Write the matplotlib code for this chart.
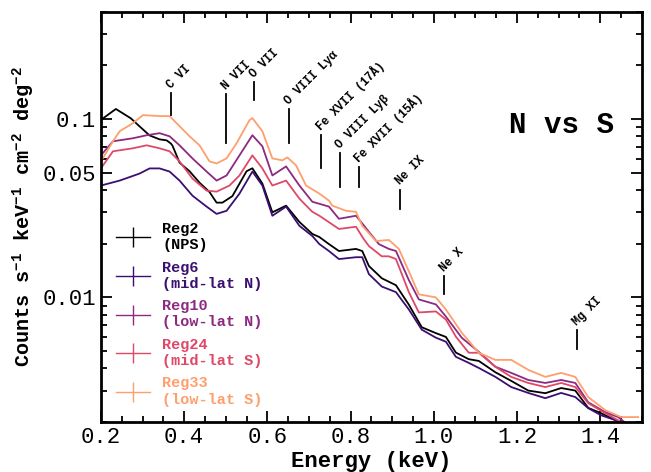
import matplotlib
matplotlib.use("Agg")
import matplotlib.pyplot as plt
from matplotlib.lines import Line2D
from matplotlib.ticker import FixedLocator, FixedFormatter, MultipleLocator, LogLocator, NullFormatter

plt.rcParams["font.family"] = ["Liberation Mono", "DejaVu Sans Mono"]
plt.rcParams["mathtext.fontset"] = "custom"
plt.rcParams["mathtext.rm"] = "Liberation Mono:bold"
plt.rcParams["mathtext.it"] = "Liberation Mono:bold"
plt.rcParams["mathtext.bf"] = "Liberation Mono:bold"

# spectra: energy (keV) and counts s^-1 keV^-1 cm^-2 deg^-2
reg2_e = [0.200, 0.236, 0.272, 0.293, 0.317, 0.341, 0.358, 0.368, 0.372, 0.389, 0.413,
          0.437, 0.461, 0.478, 0.492, 0.516, 0.550, 0.564, 0.588, 0.612, 0.645, 0.677,
          0.708, 0.725, 0.748, 0.772, 0.813, 0.828, 0.844, 0.875, 0.909, 0.940, 0.971,
          1.005, 1.029, 1.053, 1.084, 1.108, 1.148, 1.186, 1.227, 1.268, 1.306, 1.340,
          1.371, 1.402, 1.436, 1.470]
reg2_v = [0.099, 0.114, 0.101, 0.091, 0.081, 0.077, 0.076, 0.073, 0.071, 0.057, 0.051,
          0.044, 0.039, 0.034, 0.034, 0.037, 0.051, 0.053, 0.0435, 0.030, 0.0327, 0.0265,
          0.0227, 0.0218, 0.0199, 0.0182, 0.0187, 0.0182, 0.0150, 0.0128, 0.0117, 0.0091, 0.0068,
          0.0063, 0.0060, 0.0049, 0.0045, 0.0044, 0.0038, 0.0034, 0.0030, 0.0029, 0.0031, 0.0030,
          0.0024, 0.00224, 0.00205, 0.0019]

reg6_e = [0.200, 0.245, 0.293, 0.317, 0.341, 0.365, 0.389, 0.420, 0.454, 0.478, 0.502,
          0.533, 0.564, 0.588, 0.612, 0.645, 0.677, 0.708, 0.725, 0.748, 0.772, 0.813,
          0.828, 0.844, 0.875, 0.909, 0.940, 0.971, 1.005, 1.029, 1.053, 1.084, 1.108,
          1.148, 1.186, 1.227, 1.268, 1.306, 1.340, 1.371, 1.402, 1.436, 1.460]
reg6_v = [0.0424, 0.0452, 0.0495, 0.0529, 0.0529, 0.0508, 0.0452, 0.0372, 0.0323, 0.0294, 0.0306,
          0.0382, 0.0508, 0.0424, 0.0287, 0.0323, 0.0252, 0.0221, 0.0199, 0.0182, 0.0164, 0.0168,
          0.0168, 0.0135, 0.0115, 0.0107, 0.00855, 0.00659, 0.00594, 0.00564, 0.00464, 0.00429, 0.00402,
          0.00358, 0.00314, 0.00291, 0.00272, 0.00291, 0.00276, 0.00239, 0.00218, 0.00205, 0.0019]

reg10_e = [0.200, 0.229, 0.277, 0.310, 0.341, 0.365, 0.389, 0.420, 0.454, 0.478, 0.502,
           0.533, 0.564, 0.588, 0.612, 0.645, 0.677, 0.708, 0.748, 0.772, 0.813, 0.828,
           0.844, 0.868, 0.892, 0.909, 0.940, 0.964, 1.005, 1.029, 1.067, 1.108, 1.148,
           1.186, 1.227, 1.268, 1.306, 1.340, 1.371, 1.412, 1.443, 1.470]
reg10_v = [0.0626, 0.0751, 0.0781, 0.0812, 0.0834, 0.0801, 0.0713, 0.0602, 0.0508, 0.0452, 0.0483,
           0.0626, 0.0812, 0.0704, 0.0483, 0.0543, 0.0424, 0.0344, 0.0323, 0.0276, 0.0287, 0.026,
           0.0233, 0.0199, 0.0187, 0.0182, 0.0125, 0.00974, 0.00913, 0.00781, 0.00594, 0.00495, 0.00408,
           0.00377, 0.00344, 0.00331, 0.00344, 0.00331, 0.00258, 0.00227, 0.00213, 0.0019]

reg24_e = [0.200, 0.229, 0.277, 0.310, 0.341, 0.365, 0.389, 0.420, 0.454, 0.478, 0.509,
           0.533, 0.564, 0.588, 0.612, 0.645, 0.677, 0.708, 0.725, 0.772, 0.813, 0.830,
           0.844, 0.875, 0.892, 0.909, 0.940, 0.964, 1.005, 1.029, 1.053, 1.084, 1.108,
           1.148, 1.186, 1.227, 1.268, 1.306, 1.340, 1.371, 1.412, 1.450, 1.480]
reg24_v = [0.0529, 0.0660, 0.0686, 0.0713, 0.0686, 0.0660, 0.0579, 0.0464, 0.0397, 0.0392, 0.0424,
           0.0483, 0.0626, 0.0529, 0.0424, 0.0452, 0.0358, 0.0302, 0.0287, 0.0242, 0.0249, 0.0215,
           0.0194, 0.0170, 0.0170, 0.0164, 0.0107, 0.00823, 0.00834, 0.00751, 0.00602, 0.00489, 0.00489,
           0.00408, 0.00358, 0.00331, 0.00314, 0.00331, 0.00314, 0.00255, 0.00224, 0.0020, 0.0019]

reg33_e = [0.200, 0.229, 0.245, 0.277, 0.301, 0.341, 0.365, 0.389, 0.413, 0.437, 0.461,
           0.478, 0.502, 0.526, 0.557, 0.564, 0.588, 0.612, 0.636, 0.648, 0.669, 0.693,
           0.725, 0.748, 0.756, 0.789, 0.813, 0.828, 0.861, 0.892, 0.916, 0.940, 0.964,
           1.005, 1.029, 1.067, 1.108, 1.148, 1.186, 1.227, 1.268, 1.306, 1.340, 1.371,
           1.412, 1.450, 1.491]
reg33_v = [0.0579, 0.0751, 0.0855, 0.0949, 0.1053, 0.1040, 0.1040, 0.0913, 0.0801, 0.0713, 0.0579,
           0.0564, 0.0602, 0.0732, 0.0987, 0.1013, 0.0855, 0.0602, 0.0587, 0.0610, 0.0550, 0.0424,
           0.0382, 0.0349, 0.0327, 0.0306, 0.0302, 0.0252, 0.0207, 0.0210, 0.0187, 0.0140, 0.0104,
           0.0100, 0.00855, 0.00634, 0.00489, 0.00446, 0.00446, 0.00392, 0.00358, 0.00377, 0.00358, 0.00276,
           0.00233, 0.00213, 0.00213]

series = [
    ("Reg2\n(NPS)", "black", reg2_e, reg2_v),
    ("Reg6\n(mid-lat N)", "#3b0f70", reg6_e, reg6_v),
    ("Reg10\n(low-lat N)", "#8c2981", reg10_e, reg10_v),
    ("Reg24\n(mid-lat S)", "#de4968", reg24_e, reg24_v),
    ("Reg33\n(low-lat S)", "#fe9f6d", reg33_e, reg33_v),
]

# emission line markers
line_names = ["C VI", "N VII", "O VII", "O VIII Ly\u03b1", "Fe XVII (17\u00c5)",
              "O VIII Ly\u03b2", "Fe XVII (15\u00c5)", "Ne IX", "Ne X", "Mg XI"]
line_energy = [0.368, 0.500, 0.569, 0.653, 0.729, 0.775, 0.820, 0.918, 1.024, 1.345]
line_top = [0.140, 0.138, 0.162, 0.114, 0.0812, 0.0643, 0.0536, 0.0402, 0.01315, 0.00659]
line_bottom = [0.105, 0.0732, 0.128, 0.0732, 0.0529, 0.0418, 0.0418, 0.0314, 0.0104, 0.00515]

fig = plt.figure(figsize=(6.51, 4.72), dpi=100)
ax = fig.add_axes([0.155, 0.106, 0.831, 0.869])

for label, color, e, v in series:
    ax.plot(e, v, color=color, lw=1.3)

for name, en, top, bot in zip(line_names, line_energy, line_top, line_bottom):
    ax.plot([en, en], [bot, top], color="black", lw=1.3)
    ax.annotate(name, (en, top), xytext=(1.5, 1.5), textcoords="offset points",
                rotation=45, rotation_mode="anchor", ha="left", va="bottom",
                fontsize=8.5, fontweight="bold")

ax.text(0.852, 0.724, "N vs S", transform=ax.transAxes, ha="center", va="center",
        fontsize=21, fontweight="bold")

ax.set_yscale("log")
ax.set_xlim(0.2, 1.5)
ax.set_ylim(0.002, 0.4)

ax.xaxis.set_major_locator(MultipleLocator(0.2))
ax.xaxis.set_minor_locator(MultipleLocator(0.05))
ax.yaxis.set_major_locator(FixedLocator([0.01, 0.05, 0.1]))
ax.yaxis.set_major_formatter(FixedFormatter(["0.01", "0.05", "0.1"]))
ax.yaxis.set_minor_locator(LogLocator(base=10, subs=range(1, 10)))
ax.yaxis.set_minor_formatter(NullFormatter())

ax.tick_params(which="both", direction="in", top=True, right=True, width=1.3, labelsize=16)
ax.tick_params(which="major", length=8)
ax.tick_params(which="minor", length=4)
for sp in ax.spines.values():
    sp.set_linewidth(2)

ax.set_xlabel("Energy (keV)", fontsize=16, fontweight="bold", labelpad=2)
ax.set_ylabel(r"Counts s$^{-1}$ keV$^{-1}$ cm$^{-2}$ deg$^{-2}$", fontsize=14.5,
              fontweight="bold", labelpad=4)

handles = [Line2D([], [], color=c, lw=1, marker="|", markersize=14, markeredgewidth=1)
           for _, c, _, _ in series]
leg = ax.legend(handles, [s[0] for s in series], loc="lower left", frameon=False,
                fontsize=11, handlelength=2.2, labelspacing=0.55,
                bbox_to_anchor=(0.0, 0.0), borderaxespad=0.6)
for txt, (_, c, _, _) in zip(leg.get_texts(), series):
    txt.set_color(c)
    txt.set_fontweight("bold")

fig.savefig("out.png", dpi=100)
